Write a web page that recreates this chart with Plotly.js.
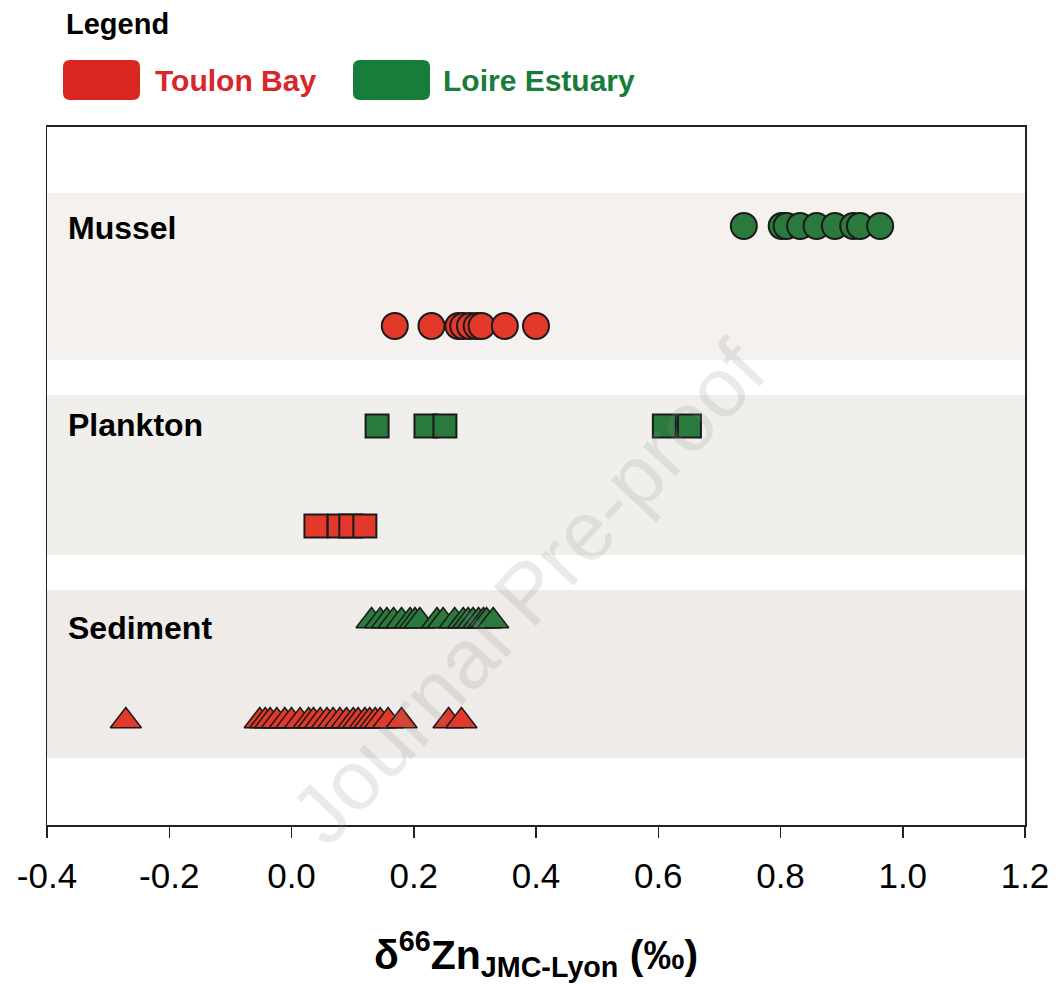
<!DOCTYPE html>
<html>
<head>
<meta charset="utf-8">
<script src="https://cdn.plot.ly/plotly-3.0.1.min.js"></script>
<style>html,body{margin:0;padding:0;background:#fff;}</style>
</head>
<body>
<div id="chart" style="width:1061px;height:988px;"></div>
<script>
// ---- Data (δ66Zn, ‰) ----
const categories = ["Mussel", "Plankton", "Sediment"];
const sites = ["Toulon Bay", "Loire Estuary"];

const musselLoire   = [0.740, 0.802, 0.810, 0.832, 0.859, 0.889, 0.919, 0.930, 0.963];
const musselToulon  = [0.169, 0.229, 0.273, 0.281, 0.292, 0.303, 0.311, 0.349, 0.400];
const planktonLoire = [0.140, 0.220, 0.251, 0.610, 0.651];
const planktonToulon = [0.040, 0.078, 0.097, 0.120];
const sedimentLoire = [0.131, 0.145, 0.156, 0.167, 0.180, 0.194, 0.202, 0.210, 0.238, 0.248,
                       0.267, 0.281, 0.289, 0.297, 0.306, 0.314, 0.319, 0.330];
const sedimentToulon = [-0.271, -0.052, -0.043, -0.035, -0.024, -0.011, 0.000, 0.014, 0.028, 0.036,
                        0.047, 0.058, 0.068, 0.079, 0.090, 0.101, 0.109, 0.120, 0.128, 0.137,
                        0.145, 0.158, 0.180, 0.257, 0.278];

const tickVals = [-0.4, -0.2, 0.0, 0.2, 0.4, 0.6, 0.8, 1.0, 1.2];
const tickText = ["-0.4", "-0.2", "0.0", "0.2", "0.4", "0.6", "0.8", "1.0", "1.2"];

// ---- Styles ----
const RED = "#e2392a";
const GREEN = "#2b7a3d";
const EDGE = "#1a1a1a";
const FONT = "Liberation Sans, Arial, sans-serif";

// row positions on the hidden y axis
const rowPos = {musselG: 5.95, musselR: 4.95, planktonG: 3.95, planktonR: 2.95, sedimentG: 2.0, sedimentR: 1.0};

function tr(xs, yPos, symbol, color, size, lw) {
  return {
    type: "scatter", mode: "markers", x: xs, y: xs.map(() => yPos),
    marker: {symbol: symbol, color: color, size: size, line: {color: EDGE, width: lw}},
    showlegend: false, hoverinfo: "x", cliponaxis: false
  };
}

const data = [
  tr(musselLoire, rowPos.musselG, "circle", GREEN, 26, 2),
  tr(musselToulon, rowPos.musselR, "circle", RED, 26, 2),
  tr(planktonLoire, rowPos.planktonG, "square", GREEN, 23, 2),
  tr(planktonToulon, rowPos.planktonR, "square", RED, 23, 2),
  tr(sedimentLoire, rowPos.sedimentG, "triangle-up", GREEN, 27, 1.5),
  tr(sedimentToulon, rowPos.sedimentR, "triangle-up", RED, 27, 1.5)
];

// pixel -> paper helpers for decoration outside the plot
const PL = 47, PR = 1025, PT = 127, PB = 825;
const px = x => (x - PL) / (PR - PL);
const py = y => (PB - y) / (PB - PT);
function roundRect(x0, y0, x1, y1, r) {
  const a = px(x0), b = px(x1), c = py(y0), d = py(y1);
  const rx = r / (PR - PL), ry = r / (PB - PT);
  return `M${a + rx},${c} L${b - rx},${c} Q${b},${c} ${b},${c - ry} L${b},${d + ry} Q${b},${d} ${b - rx},${d} ` +
         `L${a + rx},${d} Q${a},${d} ${a},${d + ry} L${a},${c - ry} Q${a},${c} ${a + rx},${c} Z`;
}

const bands = [
  {y0: 4.61, y1: 6.28, color: "#f4f1ee"},
  {y0: 2.66, y1: 4.26, color: "#f0efec"},
  {y0: 0.63, y1: 2.31, color: "#eeebe9"}
];

const shapes = bands.map(b => ({
  type: "rect", xref: "paper", yref: "y", x0: 0, x1: 1, y0: b.y0, y1: b.y1,
  fillcolor: b.color, line: {width: 0}, layer: "below"
}));
shapes.push({type: "path", xref: "paper", yref: "paper", path: roundRect(63, 60, 140, 100, 7),
             fillcolor: "#d9261f", line: {width: 0}});
shapes.push({type: "path", xref: "paper", yref: "paper", path: roundRect(353, 60, 430, 100, 7),
             fillcolor: "#187c3a", line: {width: 0}});

const catY = [228, 425, 628];
const annotations = [
  {text: "<b>Legend</b>", x: px(64), y: py(24), xref: "paper", yref: "paper", xanchor: "left", yanchor: "middle",
   showarrow: false, font: {family: FONT, size: 29, color: "#000"}},
  {text: "<b>" + sites[0] + "</b>", x: px(153), y: py(81), xref: "paper", yref: "paper", xanchor: "left", yanchor: "middle",
   showarrow: false, font: {family: FONT, size: 30, color: "#d9262b"}},
  {text: "<b>" + sites[1] + "</b>", x: px(441), y: py(81), xref: "paper", yref: "paper", xanchor: "left", yanchor: "middle",
   showarrow: false, font: {family: FONT, size: 30, color: "#187c3a"}},
  {text: "Journal Pre-proof", x: px(528), y: py(592), xref: "paper", yref: "paper", showarrow: false,
   textangle: -47, font: {family: FONT, size: 84, color: "rgba(140,140,140,0.18)"}}
];
categories.forEach((c, i) => annotations.push({
  text: "<b>" + c + "</b>", x: px(66), y: py(catY[i]), xref: "paper", yref: "paper",
  xanchor: "left", yanchor: "middle", showarrow: false, font: {family: FONT, size: 32, color: "#000"}
}));

const layout = {
  width: 1061, height: 988,
  margin: {l: PL, r: 1061 - PR, t: PT, b: 988 - PB, pad: 0},
  paper_bgcolor: "#ffffff", plot_bgcolor: "#ffffff",
  font: {family: FONT, color: "#000"},
  showlegend: false,
  xaxis: {
    range: [-0.4, 1.2], tickmode: "array", tickvals: tickVals, ticktext: tickText,
    showgrid: false, zeroline: false, showline: true, linecolor: "#222", linewidth: 2, mirror: true,
    ticks: "outside", ticklen: 11, tickwidth: 1.5, tickcolor: "#222", ticklabelstandoff: 8,
    tickfont: {family: FONT, size: 35, color: "#000"},
    title: {text: "<b>δ<sup>66</sup>Zn<sub>JMC-Lyon</sub> (‰)</b>", font: {family: FONT, size: 41, color: "#000"}, standoff: 46}
  },
  yaxis: {
    range: [-0.04, 6.94], showticklabels: false, ticks: "", showgrid: false, zeroline: false,
    showline: true, linecolor: "#222", linewidth: 1.5, mirror: true
  },
  shapes: shapes,
  annotations: annotations
};

Plotly.newPlot("chart", data, layout, {displayModeBar: false, staticPlot: true});
</script>
</body>
</html>
